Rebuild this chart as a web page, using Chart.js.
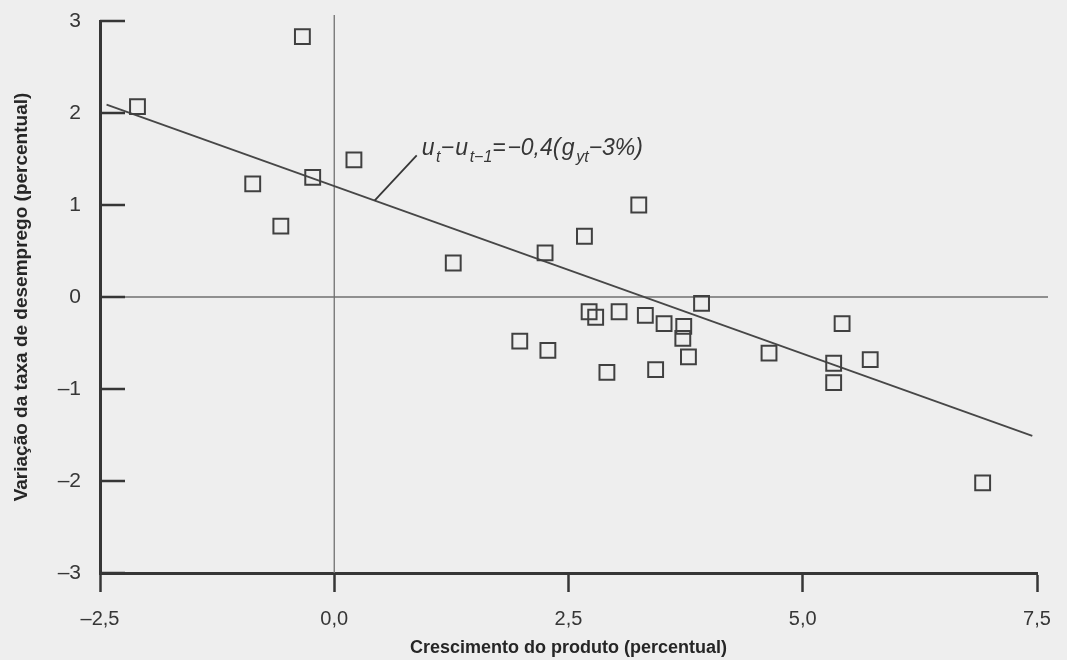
<!DOCTYPE html>
<html>
<head>
<meta charset="utf-8">
<script src="https://cdn.jsdelivr.net/npm/chart.js@4"></script>
<style>
  html, body { margin: 0; padding: 0; background: #eeeeee; }
  #wrap { width: 1067px; height: 660px; }
</style>
</head>
<body>
<div id="wrap"><canvas id="okun"></canvas></div>
<script>
// crescimento do produto (%) e variação do desemprego (p.p.), um ponto por ano
var growth = [-2.10, -0.34, -0.23, -0.87, 0.21, -0.57, 1.27, 2.25, 2.67, 3.25,
              3.92, 2.72, 2.79, 3.04, 3.32, 3.52, 3.73, 3.72, 3.78, 1.98,
              2.28, 2.91, 3.43, 5.42, 4.64, 5.33, 5.72, 5.33, 6.92];
var unempChange = [2.07, 2.83, 1.30, 1.23, 1.49, 0.77, 0.37, 0.48, 0.66, 1.00,
                   -0.07, -0.16, -0.22, -0.16, -0.20, -0.29, -0.32, -0.45, -0.65, -0.48,
                   -0.58, -0.82, -0.79, -0.29, -0.61, -0.72, -0.68, -0.93, -2.02];

// reta de Okun desenhada no gráfico
var fitX = [-2.43, 7.45];
var fitY = [2.09, -1.51];

var xTicks = [-2.5, 0, 2.5, 5, 7.5];
var xTickLabels = ['–2,5', '0,0', '2,5', '5,0', '7,5'];
var yTicks = [-3, -2, -1, 0, 1, 2, 3];
var yTickLabels = ['–3', '–2', '–1', '0', '1', '2', '3'];

var xTitle = 'Crescimento do produto (percentual)';
var yTitle = 'Variação da taxa de desemprego (percentual)';

// ponto da reta onde sai o traço da legenda, e onde ele termina
var leaderX = [0.43, 0.88];
var leaderEndY = 1.54;

var ink = '#363636';

function fitAt(v) {
    return fitY[0] + (fitY[1] - fitY[0]) * (v - fitX[0]) / (fitX[1] - fitX[0]);
}

var okunFrame = {
    id: 'okunFrame',
    beforeDatasetsDraw: function(chart) {
        var ctx = chart.ctx, a = chart.chartArea;
        var x = chart.scales.x, y = chart.scales.y;
        ctx.save();
        // eixos do zero
        ctx.strokeStyle = '#707070';
        ctx.lineWidth = 1.3;
        ctx.beginPath();
        var x0 = x.getPixelForValue(0), y0 = y.getPixelForValue(0);
        ctx.moveTo(x0, a.top - 6);
        ctx.lineTo(x0, a.bottom);
        ctx.moveTo(a.left, y0);
        ctx.lineTo(a.right + 11, y0);
        ctx.stroke();
        // marcas do eixo vertical, para dentro
        ctx.strokeStyle = ink;
        ctx.lineWidth = 2.5;
        ctx.beginPath();
        yTicks.forEach(function(v) {
            var py = y.getPixelForValue(v);
            ctx.moveTo(a.left, py);
            ctx.lineTo(a.left + 25, py);
        });
        ctx.stroke();
        ctx.restore();
    },
    afterDatasetsDraw: function(chart) {
        var ctx = chart.ctx;
        var x = chart.scales.x, y = chart.scales.y;
        var sx = x.getPixelForValue(leaderX[0]), sy = y.getPixelForValue(fitAt(leaderX[0]));
        var ex = x.getPixelForValue(leaderX[1]), ey = y.getPixelForValue(leaderEndY);
        ctx.save();
        ctx.strokeStyle = ink;
        ctx.lineWidth = 1.8;
        ctx.beginPath();
        ctx.moveTo(sx, sy);
        ctx.lineTo(ex, ey);
        ctx.stroke();

        // u_t − u_{t−1} = −0,4(g_yt − 3%)
        var parts = [['u'], ['t', 1], ['−'], ['u'], ['t−1', 1], ['='], ['−0,4('], ['g'], ['yt', 1], ['−3%)']];
        var tx = ex + 5, ty = ey;
        ctx.fillStyle = ink;
        ctx.textBaseline = 'alphabetic';
        parts.forEach(function(p) {
            ctx.font = p[1] ? 'italic 16px "Liberation Sans", Arial, sans-serif'
                            : 'italic 23px "Liberation Sans", Arial, sans-serif';
            ctx.fillText(p[0], tx, ty + (p[1] ? 7 : 0));
            tx += ctx.measureText(p[0]).width + (p[1] ? 0 : 1.5);
        });
        ctx.restore();
    }
};

var ctx = document.getElementById('okun').getContext('2d');
new Chart(ctx, {
    type: 'scatter',
    data: {
        datasets: [{
            label: 'anos',
            data: growth.map(function(g, i) { return { x: g, y: unempChange[i] }; }),
            pointStyle: 'rect',
            pointRadius: 10.5,
            pointHoverRadius: 10.5,
            borderColor: '#404040',
            borderWidth: 2,
            backgroundColor: 'rgba(0,0,0,0)'
        }, {
            label: 'reta',
            data: fitX.map(function(g, i) { return { x: g, y: fitY[i] }; }),
            showLine: true,
            pointRadius: 0,
            borderColor: '#474747',
            borderWidth: 1.8,
            fill: false
        }]
    },
    options: {
        responsive: true,
        maintainAspectRatio: false,
        animation: false,
        layout: { padding: { left: 0, right: 30, top: 21, bottom: 0 } },
        plugins: {
            legend: { display: false },
            tooltip: { enabled: false }
        },
        scales: {
            x: {
                type: 'linear',
                min: -2.5,
                max: 7.5,
                afterBuildTicks: function(s) { s.ticks = xTicks.map(function(v) { return { value: v }; }); },
                afterFit: function(s) { s.height = 87; },
                ticks: {
                    color: ink,
                    padding: 15,
                    maxRotation: 0,
                    font: { family: '"Liberation Sans", Arial, sans-serif', size: 20 },
                    callback: function(v, i) { return xTickLabels[i]; }
                },
                grid: { drawOnChartArea: false, tickLength: 19, tickColor: ink, tickWidth: 2.5 },
                border: { display: true, color: ink, width: 3 },
                title: {
                    display: true,
                    text: xTitle,
                    color: '#262626',
                    padding: { top: 0, bottom: 1 },
                    font: { family: '"Liberation Sans", Arial, sans-serif', size: 18, weight: 'bold' }
                }
            },
            y: {
                type: 'linear',
                min: -3,
                max: 3,
                afterBuildTicks: function(s) { s.ticks = yTicks.map(function(v) { return { value: v }; }); },
                afterFit: function(s) { s.width = 100; },
                ticks: {
                    color: ink,
                    padding: 2,
                    font: { family: '"Liberation Sans", Arial, sans-serif', size: 21 },
                    callback: function(v, i) { return yTickLabels[i]; }
                },
                // marcas de fora invisíveis, só para afastar os rótulos do eixo
                grid: { drawOnChartArea: false, drawTicks: true, tickLength: 17, tickColor: 'rgba(0,0,0,0)' },
                border: { display: true, color: ink, width: 3 },
                title: {
                    display: true,
                    text: yTitle,
                    color: '#262626',
                    padding: { top: 10, bottom: 0 },
                    font: { family: '"Liberation Sans", Arial, sans-serif', size: 19, weight: 'bold' }
                }
            }
        }
    },
    plugins: [okunFrame]
});
</script>
</body>
</html>
